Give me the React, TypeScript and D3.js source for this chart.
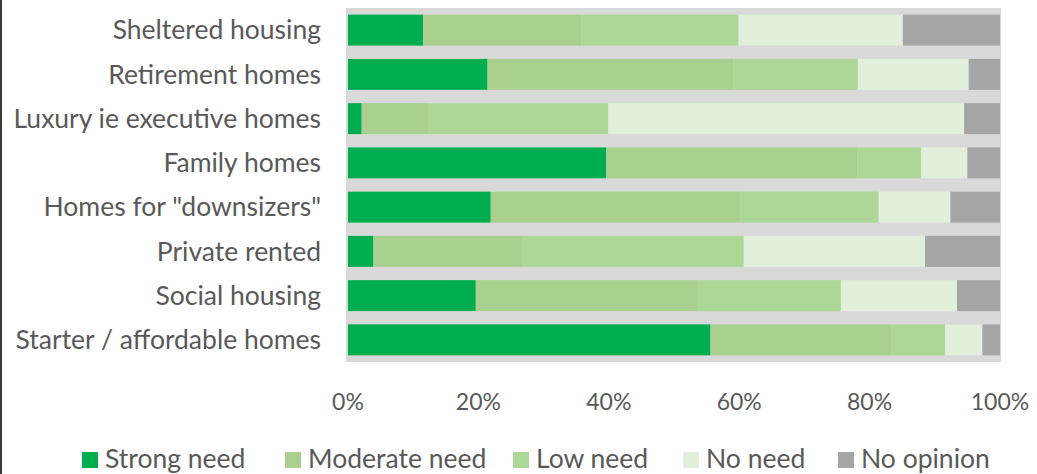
import React from "react";
import * as d3 from "d3";

const categories = [
  "Sheltered housing",
  "Retirement homes",
  "Luxury ie executive homes",
  "Family homes",
  'Homes for "downsizers"',
  "Private rented",
  "Social housing",
  "Starter / affordable homes",
];
const seriesNames = ["Strong need", "Moderate need", "Low need", "No need", "No opinion"];
const strongNeed = [11.5, 21.4, 2.1, 39.6, 21.9, 3.9, 19.6, 55.6];
const moderateNeed = [24.3, 37.7, 10.2, 38.5, 38.2, 22.9, 34.1, 27.8];
const lowNeed = [24.1, 19.1, 27.6, 9.8, 21.3, 33.9, 21.9, 8.2];
const noNeed = [25.2, 17.0, 54.6, 7.1, 11.0, 27.8, 17.8, 5.7];
const noOpinion = [14.9, 4.8, 5.5, 5.0, 7.6, 11.5, 6.6, 2.7];
const tickValues = [0, 20, 40, 60, 80, 100];
const colors = ["#00ae4f", "#a9d08e", "#acd797", "#e2efda", "#a5a5a5"];

const W = 1037;
const H = 474;
const FONT = "Lato, 'Open Sans', sans-serif";
const TEXT = "#595959";

export default function App() {
  const rows = categories.map((c, i) => ({
    cat: c,
    "Strong need": strongNeed[i],
    "Moderate need": moderateNeed[i],
    "Low need": lowNeed[i],
    "No need": noNeed[i],
    "No opinion": noOpinion[i],
  }));
  const stack = d3.stack<any>().keys(seriesNames)(rows);
  const x = d3.scaleLinear().domain([0, 100]).range([348, 1000]);
  const y = d3
    .scaleBand<string>()
    .domain(categories)
    .range([8, 362])
    .paddingInner(0.3)
    .paddingOuter(0.15);

  const legendX = [82, 285, 513, 683, 838];

  return (
    <svg
      width={W}
      height={H}
      style={{ position: "fixed", left: 0, top: 0, background: "#fff" }}
      fontFamily={FONT}
    >
      <rect x={0} y={0} width={2} height={H} fill="#3a3a3a" />
      <rect x={346} y={8} width={655} height={354} fill="#d9d9d9" />
      {stack.map((s, si) => (
        <g key={s.key} fill={colors[si]}>
          {s.map((d, i) => (
            <rect
              key={i}
              x={x(d[0])}
              y={y(categories[i])}
              width={x(d[1]) - x(d[0])}
              height={y.bandwidth()}
            />
          ))}
        </g>
      ))}
      {categories.map((c) => (
        <text
          key={c}
          x={321}
          y={(y(c) as number) + y.bandwidth() / 2}
          dy="0.35em"
          textAnchor="end"
          fontSize={26.5}
          fill={TEXT}
        >
          {c}
        </text>
      ))}
      {tickValues.map((t) => (
        <text key={t} x={x(t)} y={410} textAnchor="middle" fontSize={23} fill={TEXT}>
          {t + "%"}
        </text>
      ))}
      {seriesNames.map((n, i) => (
        <g key={n}>
          <rect x={legendX[i]} y={452} width={16} height={16} fill={colors[i]} />
          <text x={legendX[i] + 23} y={468} fontSize={26.5} fill={TEXT}>
            {n}
          </text>
        </g>
      ))}
    </svg>
  );
}
